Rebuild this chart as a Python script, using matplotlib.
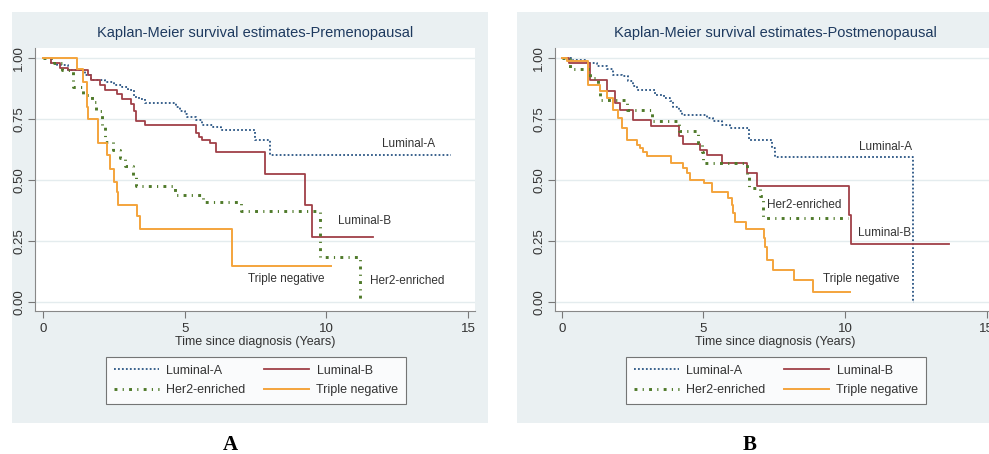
import numpy as np
import matplotlib
matplotlib.use("Agg")
from matplotlib import pyplot as plt
from matplotlib.patches import Rectangle

# ---- data (step curves: time, survival) ----
pre_lumA_t = [0, 0.3, 0.5, 0.9, 1.5, 1.7, 2.2, 2.5, 2.8, 3.0, 3.2, 3.4, 3.6, 4.7, 4.85, 5.0, 5.1, 5.4, 5.6, 6.0, 6.3, 7.5, 8.0, 14.4]
pre_lumA_s = [1.0, 0.98, 0.97, 0.95, 0.93, 0.91, 0.90, 0.89, 0.88, 0.87, 0.84, 0.83, 0.815, 0.80, 0.78, 0.77, 0.758, 0.745, 0.724, 0.715, 0.703, 0.662, 0.60, 0.60]

pre_lumB_t = [0, 0.3, 0.6, 0.9, 1.6, 1.7, 2.0, 2.2, 2.6, 2.8, 3.1, 3.2, 3.3, 3.6, 5.42, 5.5, 5.6, 5.9, 6.1, 7.83, 9.24, 9.51, 11.65]
pre_lumB_s = [1.0, 0.98, 0.96, 0.95, 0.93, 0.91, 0.89, 0.867, 0.85, 0.833, 0.81, 0.78, 0.742, 0.725, 0.69, 0.676, 0.665, 0.649, 0.615, 0.526, 0.396, 0.264, 0.264]

pre_her2_t = [0, 0.4, 0.66, 1.07, 1.42, 1.72, 1.89, 2.07, 2.19, 2.48, 2.72, 2.89, 3.19, 3.3, 4.66, 5.65, 7.0, 9.79, 11.18, 11.2]
pre_her2_s = [1.0, 0.98, 0.95, 0.88, 0.848, 0.82, 0.78, 0.72, 0.657, 0.623, 0.589, 0.555, 0.514, 0.473, 0.44, 0.409, 0.374, 0.184, 0.01, 0.01]

pre_tneg_t = [0, 1.22, 1.42, 1.54, 1.6, 1.95, 2.25, 2.35, 2.52, 2.6, 2.66, 3.33, 3.42, 6.68, 10.16]
pre_tneg_s = [1.0, 0.952, 0.90, 0.80, 0.75, 0.649, 0.60, 0.546, 0.49, 0.45, 0.396, 0.35, 0.30, 0.148, 0.148]

post_lumA_t = [0, 0.35, 0.88, 1.24, 1.59, 1.82, 2.12, 2.35, 2.53, 2.65, 3.29, 3.59, 3.82, 3.94, 4.12, 4.24, 5.12, 5.35, 5.65, 5.94, 6.59, 7.41, 7.53, 12.41, 12.42]
post_lumA_s = [1.0, 0.99, 0.98, 0.966, 0.952, 0.93, 0.925, 0.904, 0.884, 0.87, 0.849, 0.836, 0.822, 0.80, 0.78, 0.767, 0.753, 0.74, 0.726, 0.712, 0.664, 0.63, 0.593, 0.0, 0.0]

post_lumB_t = [0, 0.24, 0.98, 1.59, 1.88, 2.06, 2.53, 3.14, 4.12, 4.27, 4.88, 5.12, 5.65, 6.53, 6.88, 10.15, 10.2, 13.65]
post_lumB_s = [1.0, 0.98, 0.91, 0.863, 0.815, 0.788, 0.747, 0.719, 0.678, 0.648, 0.623, 0.603, 0.568, 0.53, 0.473, 0.356, 0.236, 0.236]

post_her2_t = [0, 0.29, 1.0, 1.29, 1.35, 2.29, 3.18, 4.12, 4.82, 4.94, 5.0, 6.53, 6.59, 7.0, 7.1, 10.1]
post_her2_s = [1.0, 0.956, 0.918, 0.877, 0.829, 0.788, 0.74, 0.699, 0.65, 0.616, 0.568, 0.52, 0.466, 0.432, 0.345, 0.345]

post_tneg_t = [0, 0.2, 0.94, 1.35, 1.59, 1.82, 2.0, 2.12, 2.29, 2.65, 2.76, 2.88, 3.0, 3.85, 4.29, 4.41, 4.53, 5.02, 5.29, 5.88, 6.0, 6.06, 6.12, 6.49, 7.12, 7.18, 7.24, 7.47, 8.2, 8.86, 10.18]
post_tneg_s = [1.0, 0.986, 0.89, 0.863, 0.836, 0.788, 0.753, 0.712, 0.664, 0.644, 0.63, 0.616, 0.596, 0.568, 0.548, 0.527, 0.50, 0.486, 0.452, 0.425, 0.397, 0.363, 0.329, 0.297, 0.26, 0.226, 0.171, 0.13, 0.089, 0.041, 0.041]

groups = ["Luminal-A", "Luminal-B", "Her2-enriched", "Triple negative"]
colors = ["#2a5584", "#a04048", "#4f7a2a", "#f4a43c"]
styles = [(0, (1, 1.2)), "-", (0, (1.0, 1.8, 0.4, 1.8)), "-"]
widths = [1.3, 1.3, 2.1, 1.4]

pre_curves = [(pre_lumA_t, pre_lumA_s), (pre_lumB_t, pre_lumB_s), (pre_her2_t, pre_her2_s), (pre_tneg_t, pre_tneg_s)]
post_curves = [(post_lumA_t, post_lumA_s), (post_lumB_t, post_lumB_s), (post_her2_t, post_her2_s), (post_tneg_t, post_tneg_s)]

# curve labels inside the plot (x, y)
pre_labels = {"Luminal-A": (11.95, 0.646), "Luminal-B": (10.42, 0.332), "Triple negative": (7.24, 0.096), "Her2-enriched": (11.53, 0.086)}
post_labels = {"Luminal-A": (10.5, 0.634), "Her2-enriched": (7.24, 0.397), "Luminal-B": (10.47, 0.281), "Triple negative": (9.21, 0.092)}

plt.rcParams['font.family'] = ['Liberation Sans', 'DejaVu Sans']
bg = "#eaf0f2"
txt = "#333333"

W, H = 989, 454
fig = plt.figure(figsize=(W / 100, H / 100), dpi=100)
fig.patch.set_facecolor("white")


def px_rect(x0, y0, x1, y1):
  return [x0 / W, 1 - y1 / H, (x1 - x0) / W, (y1 - y0) / H]


for x0, x1 in [(12, 488), (517, 1000)]:
  r = px_rect(x0, 12, x1, 423)
  fig.patches.append(Rectangle((r[0], r[1]), r[2], r[3], transform=fig.transFigure, facecolor=bg, edgecolor="none", zorder=-5))


def draw_panel(rect, curves, labels, title, xlim):
  ax = fig.add_axes(px_rect(*rect))
  ax.set_facecolor("white")
  lines = []
  for (t, s), name, c, ls, lw in zip(curves, groups, colors, styles, widths):
    ln, = ax.step(t, s, where="post", color=c, linestyle=ls, linewidth=lw, label=name)
    lines.append(ln)
  for name, (x, y) in labels.items():
    ax.text(x, y, name, fontsize=8.5, color=txt, va="center", ha="left")
  ax.set_xlim(*xlim)
  ax.set_ylim(-0.037, 1.04)
  ax.set_xticks([0, 5, 10, 15])
  ax.set_yticks([0, 0.25, 0.5, 0.75, 1.0])
  ax.set_yticklabels(["0.00", "0.25", "0.50", "0.75", "1.00"], rotation=90, va="center")
  ax.tick_params(labelsize=9.5, colors="#777777", labelcolor=txt, length=5, width=0.8, pad=2)
  ax.tick_params(axis="x", pad=4)
  ax.grid(axis="y", color="#e4ecee", linewidth=1.0)
  ax.set_axisbelow(True)
  for sp in ["top", "right"]:
    ax.spines[sp].set_visible(False)
  for sp in ["left", "bottom"]:
    ax.spines[sp].set_color("#888888")
    ax.spines[sp].set_linewidth(0.8)
  ax.set_xlabel("Time since diagnosis (Years)", fontsize=9, color=txt, labelpad=0)
  ax.set_title(title, fontsize=10.5, color="#1e3a5f", pad=8)
  # row-wise order: Luminal-A, Luminal-B / Her2-enriched, Triple negative
  order = [0, 2, 1, 3]
  leg = ax.legend([lines[i] for i in order], [groups[i] for i in order], ncol=2,
                  loc="upper left", bbox_to_anchor=(71 / 440, -0.175), fontsize=9,
                  frameon=True, fancybox=False, handlelength=3.6, handletextpad=0.6,
                  columnspacing=1.5, borderpad=0.6, labelspacing=0.6, borderaxespad=0)
  leg.get_frame().set_edgecolor("#555555")
  leg.get_frame().set_linewidth(0.8)
  for t in leg.get_texts():
    t.set_color(txt)
  return ax


draw_panel((35, 48, 475, 311), pre_curves, pre_labels, "Kaplan-Meier survival estimates-Premenopausal", (-0.28, 15.25))
draw_panel((555, 48, 995, 311), post_curves, post_labels, "Kaplan-Meier survival estimates-Postmenopausal", (-0.24, 15.29))

fig.text(230 / W, 1 - 435 / H, "A", fontsize=15, fontweight="bold", family="Liberation Serif", ha="center", va="top")
fig.text(750 / W, 1 - 435 / H, "B", fontsize=15, fontweight="bold", family="Liberation Serif", ha="center", va="top")

plt.savefig("out.png", dpi=100)
plt.close()
